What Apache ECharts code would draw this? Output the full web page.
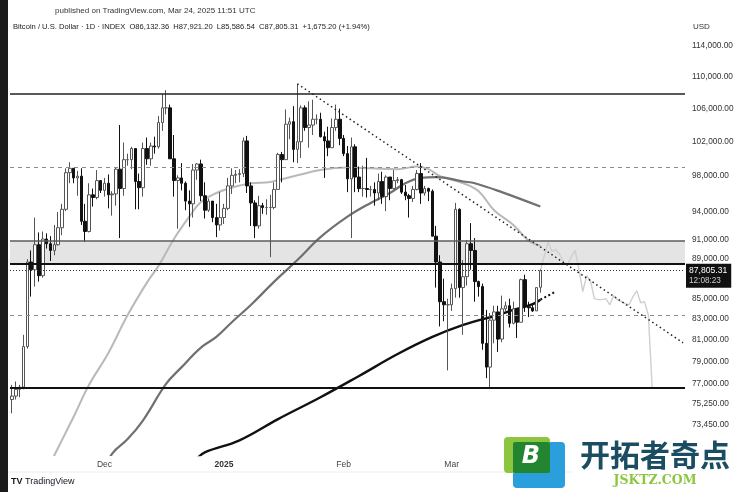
<!DOCTYPE html>
<html><head><meta charset="utf-8">
<script src="https://cdn.jsdelivr.net/npm/echarts@6/dist/echarts.min.js"></script>
<style>html,body{margin:0;padding:0;background:#fff}#c{width:741px;height:492px}</style>
</head><body><div id="c"></div>
<script>
// ---- data ----
const dayCount = 175; // 2024-11-07 .. 2025-04-30 (visible span incl. future area)
const opens = [75600,75900,76500,76700,80400,88700,87900,90500,87300,91100,90600,89900,90500,92300,94300,98400,98900,97800,98000,93000,91900,95900,95600,97500,
96400,97200,95900,96000,98800,96600,99900,99900,101200,97400,96700,101200,100000,101500,101400,104300,106100,106100,100000,97500,97800,97200,95200,94900,98700,99400,95800,94200,95200,93400,92600,
93400,94400,96900,98100,98200,98300,102100,96900,95000,92500,94700,94500,94500,94500,96500,100500,99900,104100,104400,101100,102000,106100,103700,104000,104700,104700,102600,102100,101300,103700,104700,
102400,100600,97700,101400,97900,96600,96600,96500,96500,96100,97400,95700,97900,96600,97500,97600,96200,95800,95500,96500,98300,96100,96600,96300,91400,88700,84700,84400,
84400,86000,94300,86100,87200,90600,89900,86700,86200,80700,78500,82900,83700,81100,84000,84300,82600,84000,82700,86900,84200,84100,83800,86132.36];
const highs = [76900,77200,76900,81500,89000,89900,93400,91800,91900,91700,91400,92600,94000,94900,98900,99600,98900,98600,98900,94900,97200,96600,98700,97500,
97800,98200,96300,99000,104000,101900,100600,101400,101200,98300,101900,102500,101900,102600,105100,107800,108300,106500,102800,98100,99500,97400,96400,99400,99500,99900,97300,95500,95200,94900,96200,
94900,97800,98900,98700,98800,102500,102700,97300,95300,95800,95000,95400,95900,97300,100700,100800,105900,104900,106300,109100,106400,106400,106900,107100,105300,105500,103200,103800,104800,106500,106000,
102800,101500,102500,101700,99100,99200,100100,96900,97300,98300,98500,98100,97900,98700,97900,97700,97000,96000,96900,98700,99500,96900,96700,96500,92500,89400,87000,85000,
86500,95000,94400,88900,91000,92800,91200,86800,86500,83900,83600,84300,84300,85300,84700,85000,84700,84000,87000,87400,84700,84500,86100,87921.20];
const lows = [74400,75600,75800,76500,80200,85200,86200,86700,87100,90100,88800,89400,90400,91500,94100,97200,97200,95800,92600,90800,91800,94600,95400,96100,
95700,94400,93600,94700,91200,95800,99200,98800,94300,94300,95700,99300,99200,100600,101200,103300,105300,100000,95700,92200,96400,94200,92400,93400,97600,95200,93300,94000,92900,91300,92000,
92700,94200,96000,97200,97300,97900,96100,92500,91200,92200,93800,93700,89200,94300,96500,97300,99900,102300,99600,99500,100100,103300,101300,102800,104100,102500,97800,100300,101300,103300,101600,
100300,96200,91200,96200,96200,95700,95600,95700,94700,95300,94900,94100,95300,96500,97200,96000,95300,93400,95100,96400,94900,95800,95200,91400,86100,82300,82800,78200,
83800,85100,85100,81500,86300,87900,84700,85200,80100,77500,76600,80700,79900,80800,83700,82200,82500,81200,82700,83700,83200,83700,83800,85586.54];
const closes = [75900,76500,76700,80400,88700,87900,90500,87300,91100,90600,89900,90500,92300,94300,98400,98900,97800,98000,93000,91900,95900,95600,97500,96400,
97200,95900,96000,98800,96600,99900,99900,101200,97400,96700,101200,100000,101500,101400,104300,106100,106100,100000,97500,97800,97200,95200,94900,98700,99400,95800,94200,95200,93400,92600,93400,
94400,96900,98100,98200,98300,102100,96900,95000,92500,94700,94500,94500,94500,96500,100500,99900,104100,104400,101100,102000,106100,103700,104000,104700,104700,102600,102100,101300,103700,104700,102400,
100600,97700,101400,97900,96600,96600,96500,96500,96100,97400,95700,97900,96600,97500,97600,96200,95800,95500,96500,98300,96100,96600,96300,91400,88700,84700,84400,84400,
86000,94300,86100,87200,90600,89900,86700,86200,80700,78500,82900,83700,81100,84000,84300,82600,84000,82700,86900,84200,84100,83800,86100,87805.31];

const maLight = [['2024-11-17',70200],['2024-11-19',71500],['2024-11-23',74100],['2024-11-27',76900],['2024-12-02',79800],['2024-12-07',83400],['2024-12-12',86600],['2024-12-15',88300],['2024-12-19',91100],['2024-12-23',93500],['2024-12-26',95100],['2024-12-30',96100],['2025-01-03',96700],['2025-01-08',97200],['2025-01-13',97350],['2025-01-20',98100],['2025-01-26',98700],['2025-02-02',99000],['2025-02-08',98900],['2025-02-15',98800],['2025-02-20',99100],['2025-02-23',98800],['2025-02-26',98000],['2025-03-04',97200],['2025-03-08',96300],['2025-03-12',94200],['2025-03-17',92600],['2025-03-21',90900],['2025-03-24',90400]];
const maMid = [['2024-12-01',69600],['2024-12-03',71000],['2024-12-07',72200],['2024-12-11',73800],['2024-12-17',77000],['2024-12-21',78500],['2024-12-26',80300],['2024-12-30',81300],['2025-01-03',82700],['2025-01-08',84400],['2025-01-14',86700],['2025-01-20',88900],['2025-01-26',91300],['2025-02-02',93500],['2025-02-08',95000],['2025-02-13',96100],['2025-02-17',97200],['2025-02-21',97800],['2025-02-25',97900],['2025-03-04',97400],['2025-03-07',97200],['2025-03-14',96200],['2025-03-24',94600]];
const maDark = [['2024-12-25',70600],['2024-12-27',71100],['2025-01-05',72100],['2025-01-15',73900],['2025-01-26',75800],['2025-02-05',77700],['2025-02-15',79700],['2025-02-24',81300],['2025-03-04',82450],['2025-03-13',83400],['2025-03-17',83900],['2025-03-22',84450],['2025-03-24',84900]];
const ghost = [['2025-03-24',87805],['2025-03-25',89300],['2025-03-26',90800],['2025-03-27',89800],['2025-03-28',90000],['2025-03-29',89500],['2025-03-30',88700],['2025-03-31',88400],['2025-04-01',89200],['2025-04-02',89900],['2025-04-03',88000],['2025-04-04',85700],['2025-04-05',87300],['2025-04-06',86800],['2025-04-07',85000],['2025-04-08',84900],['2025-04-09',84900],['2025-04-10',85000],['2025-04-11',84400],['2025-04-12',85300],['2025-04-13',84900],['2025-04-14',84700],['2025-04-15',84500],['2025-04-16',84400],['2025-04-17',85200],['2025-04-18',85800],['2025-04-19',84600],['2025-04-20',84700],['2025-04-21',83400],['2025-04-22',76600]];
const yTicks = [114000,110000,106000,102000,98000,94000,91000,89000,85000,83000,81000,79000,77000,75250,73450];
const monthLabels = {'2024-12-01':'Dec','2025-01-01':'2025','2025-02-01':'Feb','2025-03-01':'Mar'};
const levels = {resistance:107900, upperDash:99050, bandTop:90870, bandBottom:88560, lastPrice:87805.31, lowerDash:83400, support:76600};
const trendLine = [['2025-01-20',109100],['2025-04-30',80750]];
const maExtension = [['2025-03-24',84900],['2025-03-28',85700]];
const yMin = 70880, yMax = 117500;

// ---- build ----
const dates = [];
const d0 = Date.UTC(2024,10,7);
for (let i=0;i<dayCount;i++){ dates.push(new Date(d0+i*86400000).toISOString().slice(0,10)); }
const candles = opens.map((o,i)=>[o,closes[i],lows[i],highs[i]]);
const fmt = v => v.toLocaleString('en-US',{minimumFractionDigits:2,maximumFractionDigits:2});
const FONT = 'Liberation Sans, Arial, sans-serif';

const chart = echarts.init(document.getElementById('c'), null, {renderer:'canvas'});
const hLine = (y, type, color, width) => ({yAxis:y, lineStyle:{type:type,color:color,width:width}, label:{show:false}});

chart.setOption({
  animation:false,
  backgroundColor:'#ffffff',
  textStyle:{fontFamily:FONT},
  grid:{left:10, right:56, top:20, bottom:37},
  xAxis:{type:'category', data:dates, boundaryGap:true,
    axisLine:{show:false}, axisTick:{show:false}, splitLine:{show:false},
    axisLabel:{interval:(i,v)=>monthLabels[v]!==undefined, margin:5, fontSize:8.5, color:'#444', fontFamily:FONT,
      formatter:v=>monthLabels[v]==='2025'?'{b|2025}':(monthLabels[v]||''),
      rich:{b:{fontWeight:'bold', fontSize:8.5, color:'#333', fontFamily:FONT}}}},
  yAxis:[
    {type:'log', logBase:10, min:yMin, max:yMax, position:'right', show:true,
     axisLine:{show:false}, axisTick:{show:false}, splitLine:{show:false}, axisLabel:{show:false}},
    {type:'value', min:Math.log10(yMin), max:Math.log10(yMax), position:'right',
     axisLine:{show:false}, axisTick:{show:false}, splitLine:{show:false},
     axisLabel:{margin:7, fontSize:8.3, color:'#333', fontFamily:FONT,
       customValues:yTicks.map(v=>Math.log10(v)),
       formatter:v=>{let best=yTicks[0];for(const t of yTicks){if(Math.abs(Math.log10(t)-v)<Math.abs(Math.log10(best)-v))best=t;}return fmt(best);}}}
  ],
  series:[
    {type:'line', name:'maLight', data:maLight, yAxisIndex:0, smooth:0.4, showSymbol:false, symbol:'none',
     lineStyle:{color:'#b9b9b9', width:2}, z:2},
    {type:'line', name:'maMid', data:maMid, yAxisIndex:0, smooth:0.4, showSymbol:false, symbol:'none',
     lineStyle:{color:'#707070', width:2.2}, z:2},
    {type:'line', name:'maDark', data:maDark, yAxisIndex:0, smooth:0.4, showSymbol:false, symbol:'none',
     lineStyle:{color:'#111111', width:2.4}, z:2},
    {type:'line', name:'ghost', data:ghost, yAxisIndex:0, smooth:false, showSymbol:false, symbol:'none',
     lineStyle:{color:'#cfcfcf', width:1.4}, z:2},
    {type:'candlestick', name:'BTC', data:candles, yAxisIndex:0, barWidth:3, z:3,
     itemStyle:{color:'#ffffff', color0:'#111111', borderColor:'#555555', borderColor0:'#111111', borderWidth:1},
     markArea:{silent:true, itemStyle:{color:'#e4e4e4'}, data:[[{yAxis:levels.bandBottom},{yAxis:levels.bandTop}]]},
     markLine:{silent:true, symbol:['none','none'], animation:false,
       data:[
         hLine(levels.resistance,'solid','#222',1.5),
         hLine(levels.upperDash,[4,4],'#8a8a8a',1),
         hLine(levels.bandTop,'solid','#5a5a5a',1.5),
         hLine(levels.bandBottom,'solid','#111',2),
         hLine(levels.lowerDash,[4,4],'#8a8a8a',1),
         hLine(levels.support,'solid','#111',2),
         {yAxis:levels.lastPrice, lineStyle:{type:[1,2],color:'#333',width:1},
          label:{show:true, position:'end', distance:1, offset:[0,5], backgroundColor:'#111', padding:[2,4,2,3],
            formatter:'{a|'+fmt(levels.lastPrice)+'}\n{t|12:08:23}',
            rich:{a:{color:'#fff',fontSize:8.6,fontFamily:FONT,lineHeight:10},t:{color:'#ccc',fontSize:8.2,fontFamily:FONT,lineHeight:10}}}},
         [{coord:trendLine[0]},{coord:trendLine[1], lineStyle:{type:[1.5,3],color:'#222',width:1.5}}],
         [{coord:maExtension[0]},{coord:maExtension[1], lineStyle:{type:[2,2.5],color:'#111',width:2}}]
       ]}}
  ],
  graphic:[
    {type:'rect', left:0, top:0, shape:{width:8, height:492}, style:{fill:'#1b1b1b'}, z:100},
    {type:'text', left:55, top:7, style:{text:'published on TradingView.com, Mar 24, 2025 11:51 UTC', fontSize:8, fill:'#333', fontFamily:FONT}},
    {type:'text', left:13, top:23, style:{text:'Bitcoin / U.S. Dollar · 1D · INDEX  O'+fmt(opens[opens.length-1])+'  H'+fmt(highs[highs.length-1])+'  L'+fmt(lows[lows.length-1])+'  C'+fmt(closes[closes.length-1])+'  +1,675.20 (+1.94%)', fontSize:7.6, fill:'#222', fontFamily:FONT}},
    {type:'text', left:693, top:23, style:{text:'USD', fontSize:8, fill:'#333', fontFamily:FONT}},
    {type:'line', shape:{x1:8,y1:472,x2:741,y2:472}, style:{stroke:'#ececec', lineWidth:1}},
    {type:'text', left:11, top:477, style:{text:'TV', fontSize:9, fontWeight:'bold', fill:'#131722', fontFamily:FONT}},
    {type:'text', left:25, top:477, style:{text:'TradingView', fontSize:9, fill:'#131722', fontFamily:FONT}},
    {type:'group', z:200, children:[
      {type:'rect', shape:{x:513,y:442,width:52,height:46,r:4}, style:{fill:'#2a9fdc'}},
      {type:'rect', shape:{x:504,y:437,width:46,height:36,r:4}, style:{fill:'#8cc63f'}},
      {type:'rect', shape:{x:513,y:442,width:37,height:31,r:2}, style:{fill:'#23852f'}},
      {type:'text', x:531, y:457, style:{text:'B', fontSize:24, fontWeight:'bold', fontStyle:'italic', fill:'#ffffff', align:'center', verticalAlign:'middle', fontFamily:'DejaVu Sans, sans-serif'}},
      {type:'rect', shape:{x:572,y:436,width:169,height:56}, style:{fill:'#ffffff'}},
      {type:'text', x:655, y:455, style:{text:'开拓者奇点', fontSize:30, fontWeight:'bold', fill:'#1b4d62', align:'center', verticalAlign:'middle', fontFamily:'Noto Sans CJK SC, sans-serif'}},
      {type:'text', x:655, y:481, style:{text:'JSKTZ.COM', fontSize:12.5, fontWeight:'bold', fill:'#8cc63f', align:'center', verticalAlign:'middle', fontFamily:'DejaVu Serif, serif'}}
    ]}
  ]
});
</script></body></html>
